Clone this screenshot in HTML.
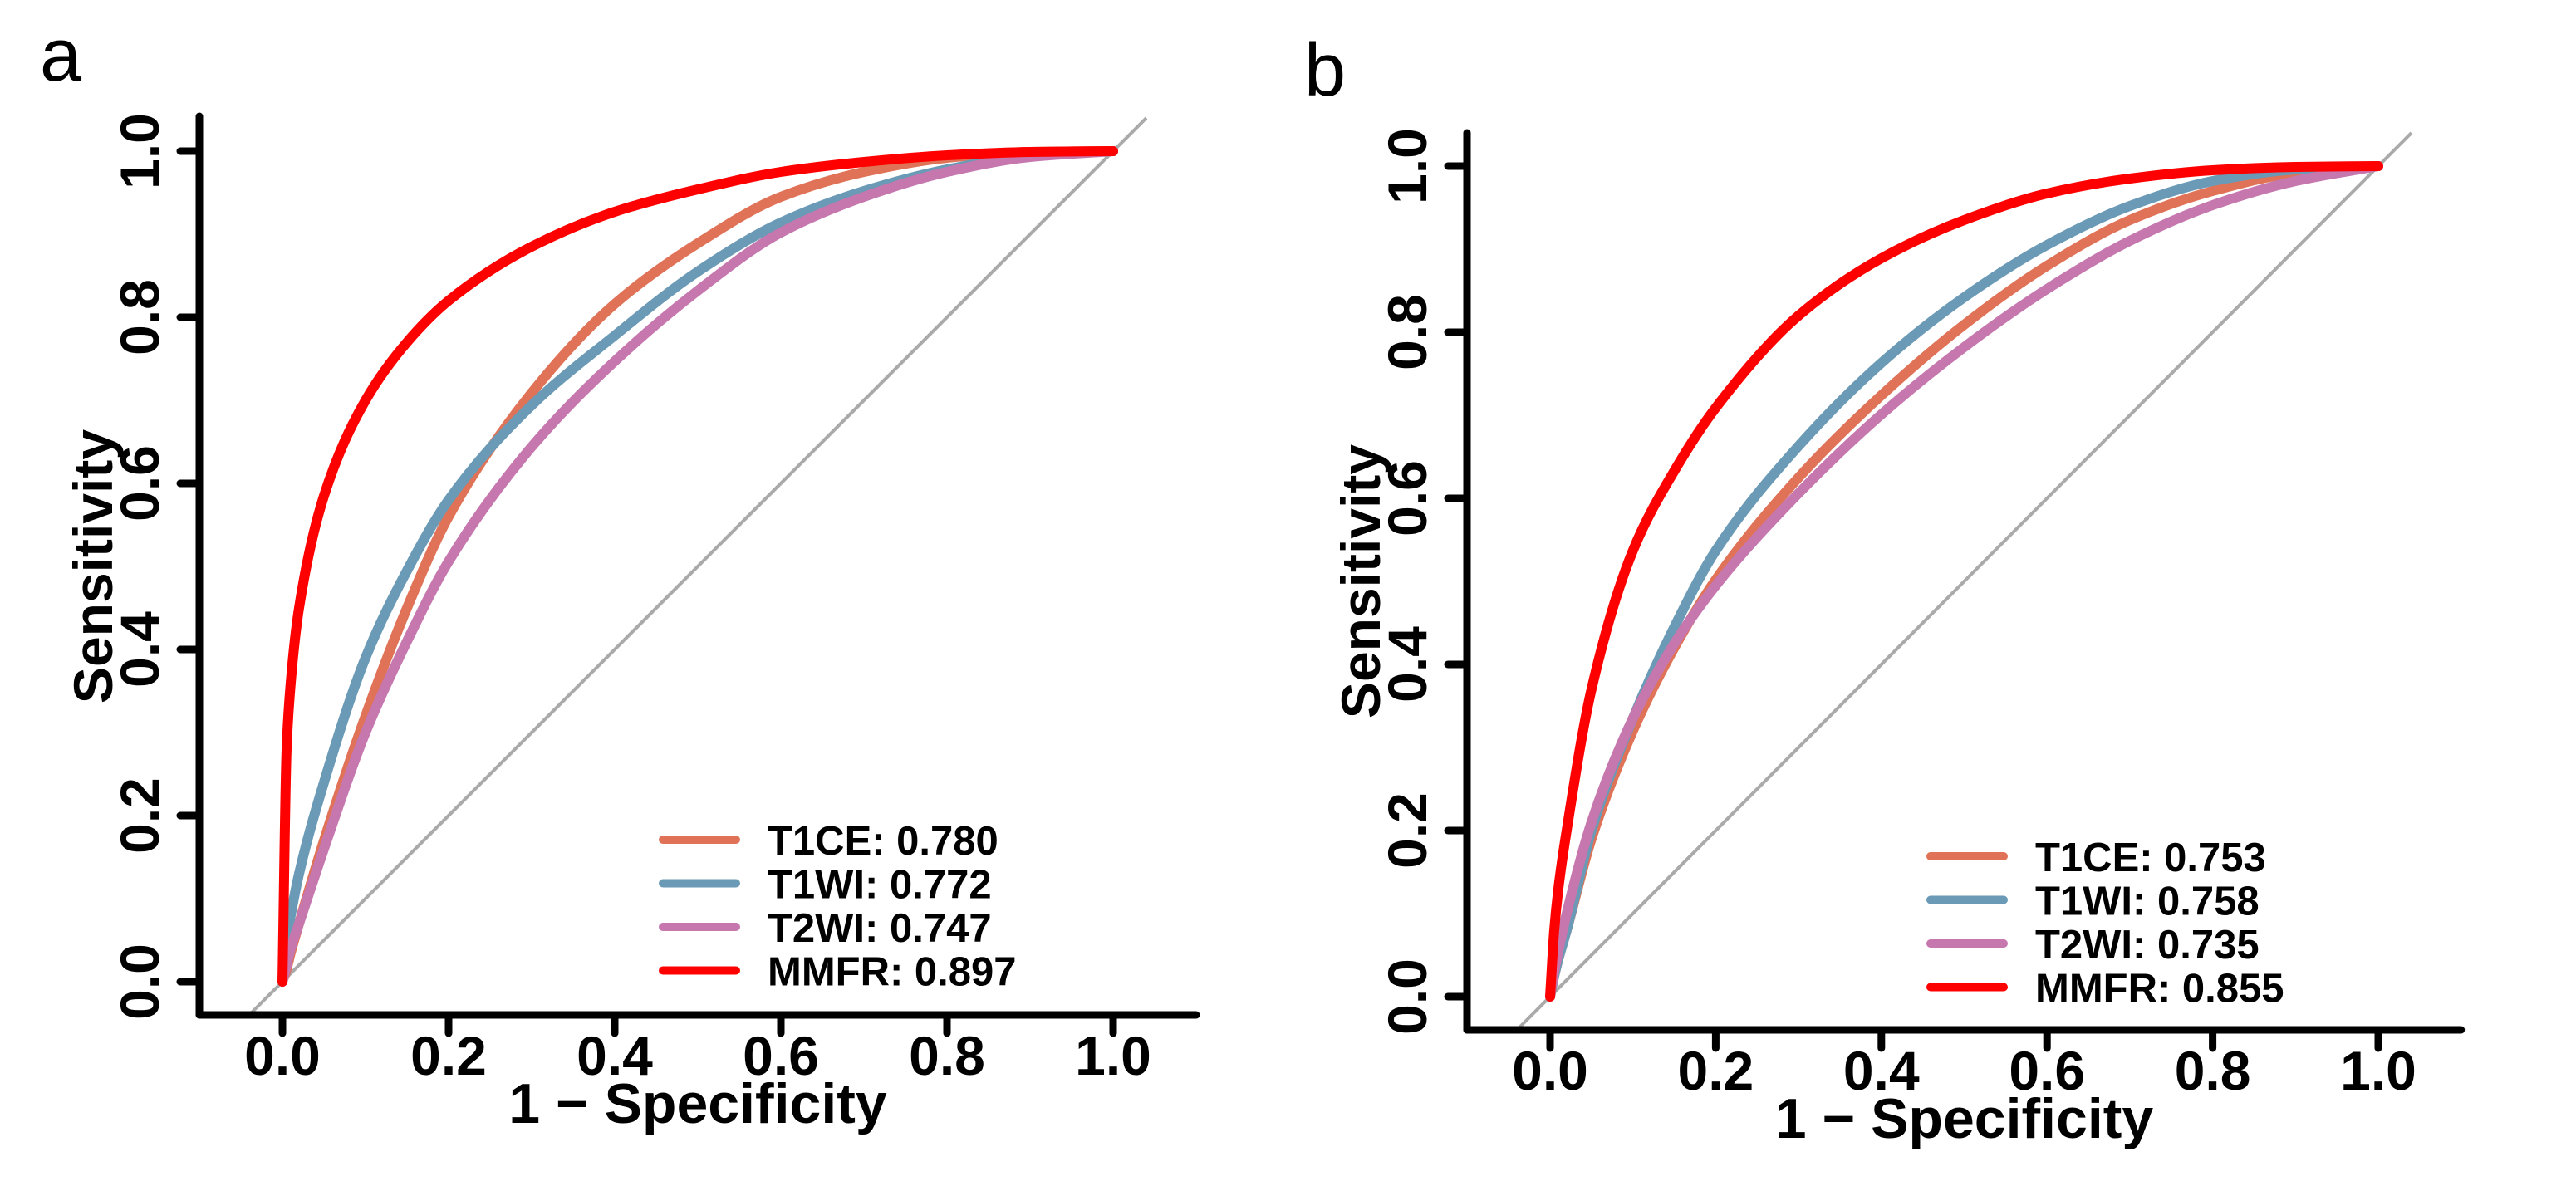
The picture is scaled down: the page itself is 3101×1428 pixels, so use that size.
<!DOCTYPE html>
<html><head><meta charset="utf-8"><style>
html,body{margin:0;padding:0;background:#fff}
svg{display:block}
text{font-family:"Liberation Sans",Arial,sans-serif}
</style></head><body>
<svg id="fig" width="3101" height="1428" viewBox="0 0 3101 1428" xmlns="http://www.w3.org/2000/svg"></svg>
<script>
const fpr = [0,0.005,0.01,0.02,0.05,0.1,0.15,0.2,0.3,0.4,0.5,0.6,0.7,0.8,0.9,1];
const ticks = [0,0.2,0.4,0.6,0.8,1.0];
const tickLabels = ["0.0","0.2","0.4","0.6","0.8","1.0"];
const seriesNames = ["T1CE","T1WI","T2WI","MMFR"];
const seriesColors = ["#E07257","#6A9AB5","#C577AE","#FF0000"];
const aucA = ["0.780","0.772","0.747","0.897"];
const aucB = ["0.753","0.758","0.735","0.855"];
const aT1CE = [0,0.015,0.035,0.07,0.17,0.32,0.45,0.56,0.709,0.816,0.889,0.945,0.975,0.992,0.999,1];
const aT1WI = [0,0.05,0.08,0.13,0.24,0.39,0.495,0.58,0.694,0.778,0.855,0.914,0.952,0.978,0.994,1];
const aT2WI = [0,0.02,0.04,0.07,0.16,0.30,0.41,0.506,0.644,0.747,0.832,0.902,0.945,0.975,0.993,1];
const aMMFR = [0,0.28,0.36,0.45,0.585,0.70,0.77,0.82,0.885,0.927,0.954,0.975,0.987,0.995,0.999,1];
const bT1CE = [0,0.025,0.045,0.08,0.19,0.32,0.42,0.502,0.625,0.724,0.809,0.88,0.935,0.97,0.992,1];
const bT1WI = [0,0.025,0.045,0.08,0.2,0.335,0.445,0.537,0.663,0.763,0.842,0.905,0.952,0.982,0.996,1];
const bT2WI = [0,0.03,0.055,0.1,0.21,0.335,0.425,0.495,0.606,0.701,0.782,0.852,0.91,0.953,0.982,1];
const bMMFR = [0,0.08,0.13,0.2,0.37,0.537,0.633,0.709,0.82,0.889,0.935,0.967,0.985,0.995,0.999,1];

const NS="http://www.w3.org/2000/svg";
const svg=document.getElementById('fig');
function mk(tag,attrs,parent){const e=document.createElementNS(NS,tag);for(const k in attrs)e.setAttribute(k,attrs[k]);(parent||svg).appendChild(e);return e;}

// monotone cubic (Fritsch-Carlson) in data space, returns pixel path
function path(xs,ys,X,Y){
  const n=xs.length,d=[],m=[];
  for(let i=0;i<n-1;i++)d.push((ys[i+1]-ys[i])/(xs[i+1]-xs[i]));
  m[0]=d[0];m[n-1]=d[n-2];
  for(let i=1;i<n-1;i++){
    if(d[i-1]*d[i]<=0)m[i]=0;
    else{const h0=xs[i]-xs[i-1],h1=xs[i+1]-xs[i];const w1=2*h1+h0,w2=h1+2*h0;m[i]=(w1+w2)/(w1/d[i-1]+w2/d[i]);}
  }
  let s="M"+X(xs[0])+","+Y(ys[0]);
  for(let i=0;i<n-1;i++){
    const h=xs[i+1]-xs[i];
    s+=" C"+X(xs[i]+h/3)+","+Y(ys[i]+m[i]*h/3)+" "+X(xs[i+1]-h/3)+","+Y(ys[i+1]-m[i+1]*h/3)+" "+X(xs[i+1])+","+Y(ys[i+1]);
  }
  return s;
}

function panel(cfg){
  const g=mk('g',{});
  
  
  const X=v=>cfg.x0+v*cfg.sx, Y=v=>cfg.y0-v*cfg.sy;
  const lt=mk('text',{x:cfg.lx,y:cfg.ly,'font-size':90,fill:'#000'},g);lt.textContent=cfg.letter;
  
  
  const dg=mk('line',{x1:X(-0.042),y1:Y(-0.042),x2:X(1.04),y2:Y(1.04),stroke:'#aaa','stroke-width':4},g);
  
  
  const ya=mk('line',{x1:cfg.ax,y1:cfg.ytop,x2:cfg.ax,y2:cfg.ab,stroke:'#000','stroke-width':9,'stroke-linecap':'round'},g);
  
  
  const xa=mk('line',{x1:cfg.ax,y1:cfg.ab,x2:X(1.1),y2:cfg.ab,stroke:'#000','stroke-width':9,'stroke-linecap':'round'},g);
  
  
  ticks.forEach((t,i)=>{
    const yt=mk('line',{x1:cfg.ax-23,y1:Y(t),x2:cfg.ax,y2:Y(t),stroke:'#000','stroke-width':9,'stroke-linecap':'round'},g);
    
    
    const xt=mk('line',{x1:X(t),y1:cfg.ab,x2:X(t),y2:cfg.ab+22,stroke:'#000','stroke-width':9,'stroke-linecap':'round'},g);
    
    
    const yl=mk('text',{x:0,y:0,'font-size':66,'font-weight':'bold','text-anchor':'middle',transform:`translate(${cfg.ax-49},${Y(t)}) rotate(-90)`},g);
    yl.textContent=tickLabels[i];
    
    
    const xl=mk('text',{x:X(t),y:cfg.ab+72,'font-size':66,'font-weight':'bold','text-anchor':'middle'},g);
    xl.textContent=tickLabels[i];
    
    
  });
  const xtl=mk('text',{x:X(0.5),y:cfg.ab+130,'font-size':68,'font-weight':'bold','text-anchor':'middle'},g);
  xtl.textContent="1 \u2212 Specificity";
  
  
  const ytl=mk('text',{x:0,y:0,'font-size':66,'font-weight':'bold','text-anchor':'middle',transform:`translate(${cfg.ax-105},${Y(0.5)}) rotate(-90)`},g);
  ytl.textContent="Sensitivity";
  
  
  cfg.series.forEach((vals,si)=>{
    const p=mk('path',{d:path(fpr,vals,X,Y),fill:'none',stroke:seriesColors[si],'stroke-width':12,'stroke-linecap':'round','stroke-linejoin':'round'},g);
    
    
  });
  seriesNames.forEach((n,i)=>{
    const yy=cfg.legY+i*52.5;
    const ll=mk('line',{x1:cfg.legX,y1:yy,x2:cfg.legX+88,y2:yy,stroke:seriesColors[i],'stroke-width':10,'stroke-linecap':'round'},g);
    
    
    const lx=mk('text',{x:cfg.legX+126,y:yy+18,'font-size':49,'font-weight':'bold'},g);
    lx.textContent=n+": "+cfg.auc[i];
    
    
  });
}
panel({name:'panel-a',letter:'a',lx:48,ly:97,x0:340,sx:1000,y0:1182,sy:1000,ax:240,ytop:140,ab:1222,legX:798,legY:1011,auc:aucA,series:[aT1CE,aT1WI,aT2WI,aMMFR]});
panel({name:'panel-b',letter:'b',lx:1570,ly:115,x0:1866,sx:997,y0:1200,sy:1000,ax:1766,ytop:160,ab:1240,legX:2324,legY:1031,auc:aucB,series:[bT1CE,bT1WI,bT2WI,bMMFR]});
</script>
</body></html>
